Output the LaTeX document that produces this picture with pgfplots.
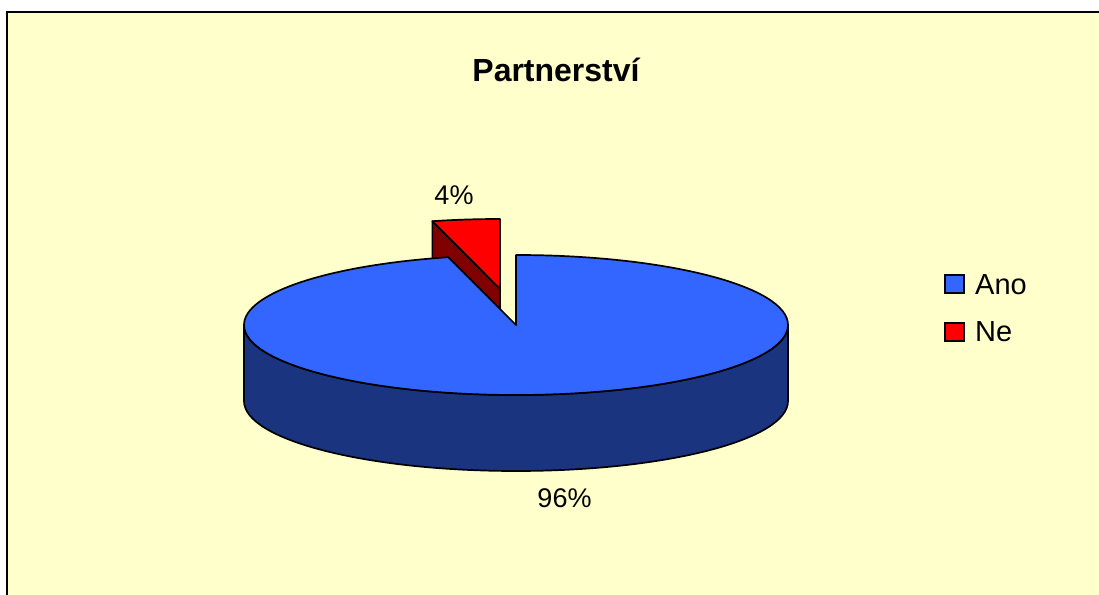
\documentclass[border=0pt]{standalone}
\usepackage{pgfplots}
\pgfplotsset{compat=1.18}
\usepackage{pgfplotstable}
\usepackage{fontspec}
\setmainfont{Liberation Sans}
\definecolor{bg}{HTML}{FFFFCC}
\definecolor{anotop}{HTML}{3366FF}
\definecolor{anoside}{HTML}{1B3480}
\definecolor{netop}{HTML}{FF0000}
\definecolor{neside}{HTML}{800000}

\pgfplotstableread{
label value
Ano 96
Ne 4
}\piedata

\begin{document}
\begin{tikzpicture}
\pgfplotstablegetelem{0}{value}\of\piedata \let\vAno\pgfplotsretval
\pgfplotstablegetelem{1}{value}\of\piedata \let\vNe\pgfplotsretval
\pgfmathsetmacro\aNe{90+360*\vNe/(\vAno+\vNe)}
\pgfmathsetmacro\aAnoEnd{\aNe-360}
% geometry (1 unit = 1 pt)
\def\cx{516}\def\cy{269}\def\rx{272}\def\ry{70}\def\dep{76}
\def\ex{-16}\def\ey{36}
\pgfmathsetmacro\ncx{\cx+\ex}
\pgfmathsetmacro\ncy{\cy+\ey}
\pgfmathsetmacro\ncyb{\ncy-\dep}
\pgfmathsetmacro\ntop{\ncy+\ry}
\pgfmathsetmacro\nx{\ncx+\rx*cos(\aNe)}
\pgfmathsetmacro\ny{\ncy+\ry*sin(\aNe)}
\pgfmathsetmacro\nyb{\ny-\dep}
\pgfmathsetmacro\axl{\cx-\rx}
\pgfmathsetmacro\axr{\cx+\rx}
\pgfmathsetmacro\ayb{\cy-\dep}
\pgfmathsetmacro\atop{\cy+\ry}
\begin{axis}[name=pie,x=1pt,y=1pt,xmin=0,xmax=1099,ymin=0,ymax=594,hide axis,clip=false,scale only axis]
\fill[white] (axis cs:-10,-10) rectangle (axis cs:1110,604);
\fill[bg] (axis cs:7,-10) rectangle (axis cs:1110,582);
\draw[line width=2pt] (axis cs:7,-10) -- (axis cs:7,582) -- (axis cs:1110,582);
% Ne slice (exploded)
\filldraw[fill=neside,line width=1.7pt,line join=round]
  (axis cs:\ncx,\ncy) -- (axis cs:\nx,\ny) -- (axis cs:\nx,\nyb) -- (axis cs:\ncx,\ncyb) -- cycle;
\filldraw[fill=netop,line width=1.7pt,line join=round]
  (axis cs:\ncx,\ncy) -- (axis cs:\ncx,\ntop)
  arc[start angle=90,end angle=\aNe,x radius=\rx pt,y radius=\ry pt] -- cycle;
% Ano slice
\filldraw[fill=anoside,line width=1.7pt,line join=round]
  (axis cs:\axl,\cy) -- (axis cs:\axl,\ayb)
  arc[start angle=180,end angle=360,x radius=\rx pt,y radius=\ry pt]
  -- (axis cs:\axr,\cy)
  arc[start angle=0,end angle=-180,x radius=\rx pt,y radius=\ry pt] -- cycle;
\filldraw[fill=anotop,line width=1.7pt,line join=round]
  (axis cs:\cx,\cy) -- (axis cs:\cx,\atop)
  arc[start angle=90,end angle=\aAnoEnd,x radius=\rx pt,y radius=\ry pt] -- cycle;
% labels
\node[anchor=base,inner sep=0pt,font=\fontsize{32}{36}\selectfont\bfseries] at (axis cs:556,512) {Partnerství};
\node[anchor=base,inner sep=0pt,font=\fontsize{27}{32}\selectfont] at (axis cs:454,389) {4\%};
\node[anchor=base,inner sep=0pt,font=\fontsize{27}{32}\selectfont] at (axis cs:564.5,86) {96\%};
% legend
\filldraw[fill=anotop,line width=1.5pt] (axis cs:945,301) rectangle (axis cs:964,319);
\filldraw[fill=netop,line width=1.5pt] (axis cs:945,253) rectangle (axis cs:964,271);
\node[anchor=base west,inner sep=0pt,font=\fontsize{29}{34}\selectfont] at (axis cs:975,299) {Ano};
\node[anchor=base west,inner sep=0pt,font=\fontsize{29}{34}\selectfont] at (axis cs:975,252) {Ne};
\end{axis}
\pgfresetboundingbox
\useasboundingbox (pie.south west) rectangle (pie.north east);
\end{tikzpicture}
\end{document}
